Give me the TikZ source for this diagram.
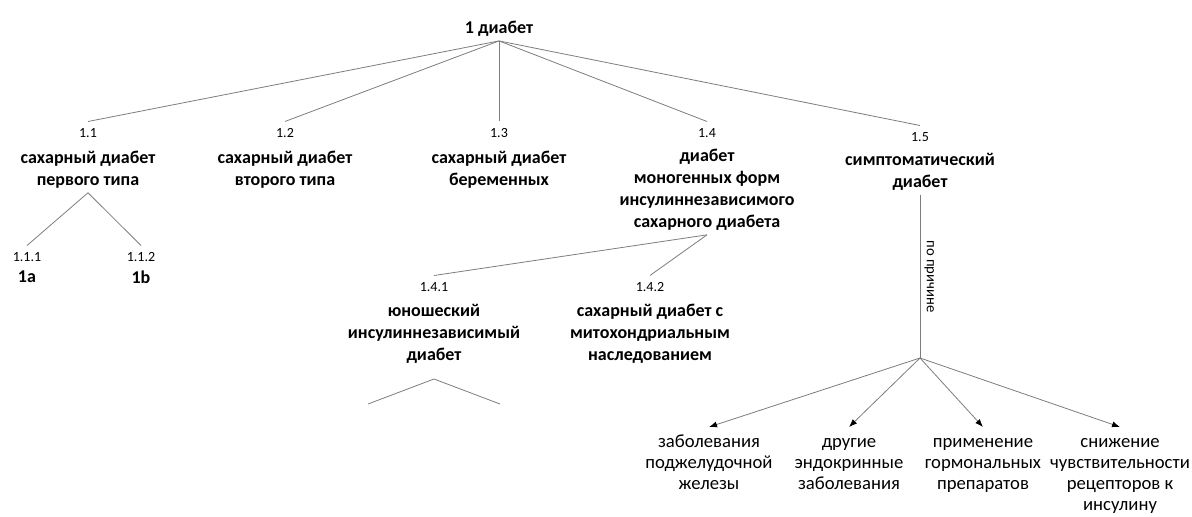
\documentclass[tikz,border=0pt]{standalone}
\usepackage{fontspec}
\setmainfont{Carlito}
\usetikzlibrary{arrows.meta}
\definecolor{linegray}{RGB}{125,125,125}
\newcommand{\topline}{\rule{0pt}{11pt}}
\tikzset{
    num/.style={font=\fontsize{10.5}{12}\selectfont, inner sep=5pt},
    lbl/.style={font=\bfseries\fontsize{13.5}{16.5}\selectfont, align=center, inner sep=3pt},
    cause/.style={font=\fontsize{14}{15.75}\selectfont, align=center, inner sep=4pt},
    link/.style={draw=linegray, line width=0.6pt},
    arr/.style={link, -{Latex[length=6pt, width=4.5pt, color=black]}}
}
\begin{document}
\begin{tikzpicture}[x=0.75pt, y=-0.75pt]
    \useasboundingbox (0,0) rectangle (1192,517);
    \node[lbl] (root) at (499,29) {1 диабет};
    \node[num] (n11) at (88,133) {1.1};
    \node[lbl, anchor=north] (t11) at (88,147) {сахарный диабет\\первого типа};
    \node[num] (n12) at (285,133) {1.2};
    \node[lbl, anchor=north] (t12) at (285,147) {сахарный диабет\\второго типа};
    \node[num] (n13) at (499,133) {1.3};
    \node[lbl, anchor=north] (t13) at (499,147) {сахарный диабет\\беременных};
    \node[num] (n14) at (707,133) {1.4};
    \node[lbl, anchor=north] (t14) at (707,145) {диабет\\моногенных форм\\инсулиннезависимого\\сахарного диабета};
    \node[num] (n15) at (920,137) {1.5};
    \node[lbl, anchor=north] (t15) at (920,149) {симптоматический\\диабет};
    \draw[link] (root.south) -- (n11.north);
    \draw[link] (root.south) -- (n12.north);
    \draw[link] (root.south) -- (n13.north);
    \draw[link] (root.south) -- (n14.north);
    \draw[link] (root.south) -- (n15.north);

    \node[num] (n111) at (27,257) {1.1.1};
    \node[lbl, anchor=north] (t111) at (27,267) {1a};
    \node[num] (n112) at (141,257) {1.1.2};
    \node[lbl, anchor=north] (t112) at (141,267) {1b};
    \draw[link] (t11.south) -- (n111.north);
    \draw[link] (t11.south) -- (n112.north);

    \node[num] (n141) at (434,287) {1.4.1};
    \node[lbl, anchor=north] (t141) at (434,300) {юношеский\\инсулиннезависимый\\диабет};
    \node[num] (n142) at (650,287) {1.4.2};
    \node[lbl, anchor=north] (t142) at (650,300) {сахарный диабет с\\митохондриальным\\наследованием};
    \draw[link] (t14.south) -- (n141.north);
    \draw[link] (t14.south) -- (n142.north);
    \coordinate (j141) at (434,379);
    \coordinate (l141) at (368,404);
    \coordinate (r141) at (500,404);
    \draw[link] (l141) -- (j141) -- (r141);

    \coordinate (why) at (920,358);
    \draw[link] (t15.south) -- (why)
        node[pos=0.5, anchor=south, rotate=-90, font=\fontsize{11}{13}\selectfont, inner sep=3pt] (reason) {по причине};
    \node[cause, anchor=north] (c1) at (709,427) {\topline заболевания\\поджелудочной\\железы};
    \node[cause, anchor=north] (c2) at (849,427) {\topline другие\\эндокринные\\заболевания};
    \node[cause, anchor=north] (c3) at (983,427) {\topline применение\\гормональных\\препаратов};
    \node[cause, anchor=north] (c4) at (1120,427) {\topline снижение\\чувствительности\\рецепторов к\\инсулину};
    \draw[arr] (why) -- (c1.north);
    \draw[arr] (why) -- (c2.north);
    \draw[arr] (why) -- (c3.north);
    \draw[arr] (why) -- (c4.north);
\end{tikzpicture}
\end{document}
